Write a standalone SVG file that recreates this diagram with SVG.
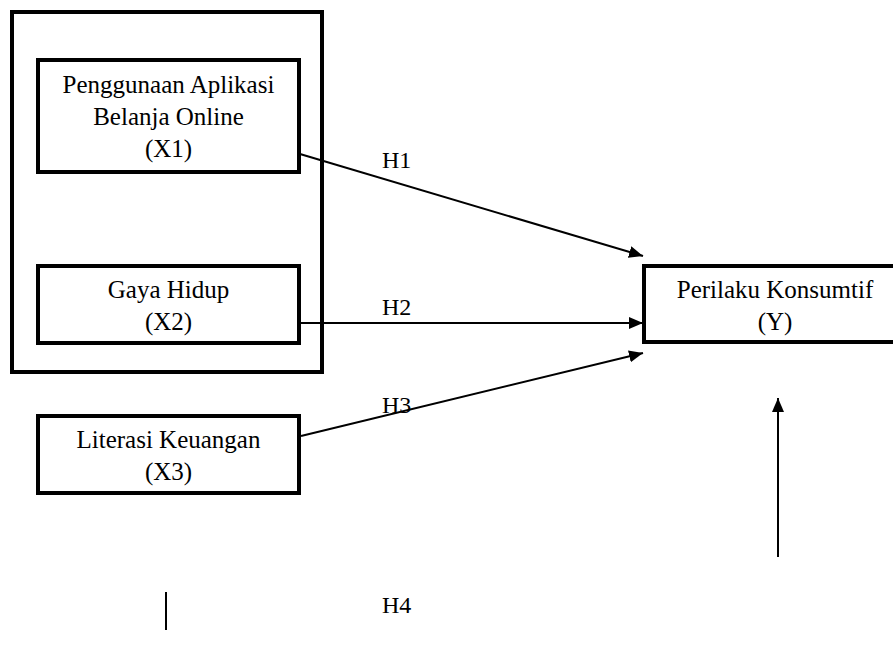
<svg xmlns="http://www.w3.org/2000/svg" width="893" height="646" viewBox="0 0 893 646">
<defs>
<marker id="ah" markerUnits="userSpaceOnUse" markerWidth="15" markerHeight="13" refX="14" refY="6" orient="auto">
<path d="M0,0 L14,6 L0,12 z" fill="#000"/>
</marker>
<style>
.box{fill:#fff;stroke:#000;stroke-width:4}
.grp{fill:none;stroke:#000;stroke-width:4}
.t{font-family:'Liberation Serif','Times New Roman','DejaVu Serif',serif;font-size:25px;fill:#000;text-anchor:middle}
.h{font-family:'Liberation Serif','Times New Roman','DejaVu Serif',serif;font-size:24px;fill:#000}
.c{stroke:#000;stroke-width:2;fill:none}
</style>
</defs>
<rect width="893" height="646" fill="#fff"/>
<g id="group-x1x2"><rect class="grp" x="12" y="12" width="310" height="360"/></g>
<g id="x1"><rect class="box" x="38" y="60" width="261" height="112"/>
<text class="t" x="168.5" y="93">Penggunaan Aplikasi</text>
<text class="t" x="168.5" y="125">Belanja Online</text>
<text class="t" x="168.5" y="157">(X1)</text></g>
<g id="x2"><rect class="box" x="38" y="266" width="261" height="77"/>
<text class="t" x="168.5" y="298">Gaya Hidup</text>
<text class="t" x="168.5" y="330">(X2)</text></g>
<g id="x3"><rect class="box" x="38" y="416" width="261" height="77"/>
<text class="t" x="168.5" y="448">Literasi Keuangan</text>
<text class="t" x="168.5" y="480">(X3)</text></g>
<g id="y"><rect class="box" x="644" y="266" width="260" height="76"/>
<text class="t" x="775" y="298">Perilaku Konsumtif</text>
<text class="t" x="775" y="330">(Y)</text></g>
<g id="connectors">
<line class="c" x1="300" y1="154" x2="643" y2="256" marker-end="url(#ah)"/>
<line class="c" x1="300" y1="323" x2="643" y2="323" marker-end="url(#ah)"/>
<line class="c" x1="301" y1="436" x2="643" y2="353" marker-end="url(#ah)"/>
<line class="c" x1="778" y1="557" x2="778" y2="398" marker-end="url(#ah)"/>
<line class="c" x1="166" y1="592" x2="166" y2="630"/>
</g>
<g id="labels">
<text class="h" x="382" y="168">H1</text>
<text class="h" x="382" y="315">H2</text>
<text class="h" x="382" y="413">H3</text>
<text class="h" x="382" y="613">H4</text>
</g>
</svg>
